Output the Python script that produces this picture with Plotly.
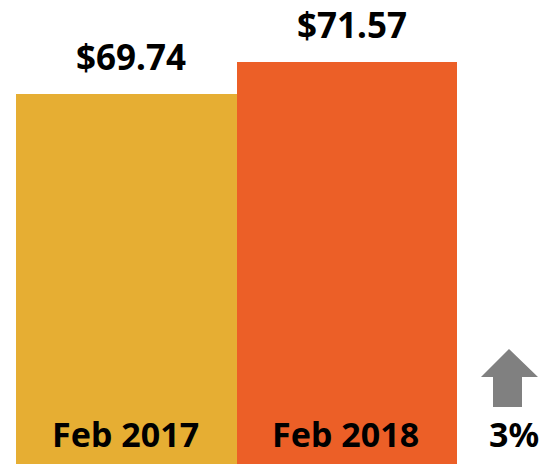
import plotly.graph_objects as go

categories = ["Feb 2017", "Feb 2018"]
values = [69.74, 71.57]
value_labels = ["$69.74", "$71.57"]
colors = ["#E6AE33", "#EC5F27"]
change_label = "3%"

W, H = 539, 464
FONT = "Noto Sans"
Y0, Y1 = 48.6, 75.08

def px(x, y):
    return x / W, 1 - y / H

xpos = list(range(len(categories)))

fig = go.Figure(go.Bar(
    x=xpos, y=values, width=1, marker=dict(color=colors, line=dict(width=0)),
    hoverinfo="skip",
))

ann = []
for i, (v, lab, cat) in enumerate(zip(values, value_labels, categories)):
    ann.append(dict(x=i, y=v, xref="x", yref="y", text=f"<b>{lab}</b>", showarrow=False,
                    yanchor="middle", yshift=37, xshift=5,
                    font=dict(family=FONT, size=35, color="#000")))
    ann.append(dict(x=i, y=Y0, xref="x", yref="y", text=f"<b>{cat}</b>", showarrow=False,
                    yanchor="middle", yshift=30, xshift=-1,
                    font=dict(family=FONT, size=34, color="#000")))
xx, yy = px(487, 434)
ann.append(dict(x=xx, y=yy, xref="paper", yref="paper", text=f"<b>{change_label}</b>", showarrow=False,
                xanchor="left", yanchor="middle", font=dict(family=FONT, size=34, color="#000")))

pts = [(481, 377), (509, 349), (538, 377), (522, 377), (522, 407), (493, 407), (493, 377)]
path = "M " + " L ".join(f"{px(a,b)[0]:.5f},{px(a,b)[1]:.5f}" for a, b in pts) + " Z"

fig.update_layout(
    width=W, height=H, margin=dict(l=0, r=0, t=0, b=0),
    paper_bgcolor="white", plot_bgcolor="white",
    showlegend=False, bargap=0,
    xaxis=dict(range=[-0.5 - 16 / 220.5, 1.5 + 82 / 220.5], visible=False, fixedrange=True),
    yaxis=dict(range=[Y0, Y1], visible=False, fixedrange=True),
    annotations=ann,
    shapes=[dict(type="path", path=path, xref="paper", yref="paper",
                 fillcolor="#808080", line=dict(width=0))],
)

fig.write_html("out.html", config={"displayModeBar": False},
               post_script="document.body.style.margin='0';document.body.style.overflow='hidden';")
